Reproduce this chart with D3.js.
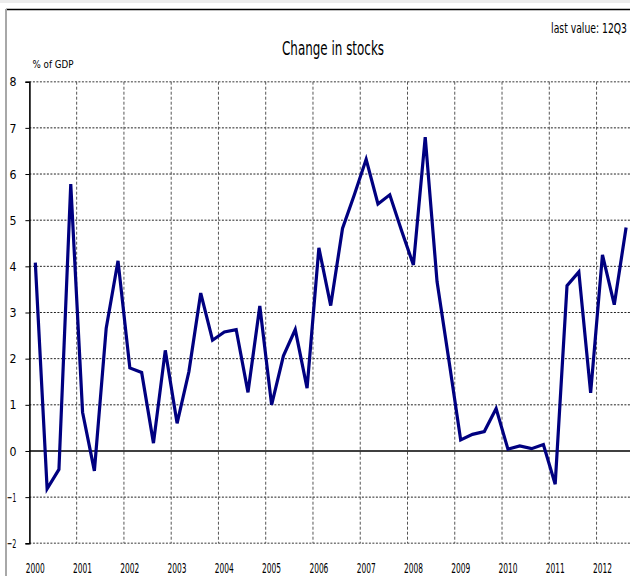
<!DOCTYPE html>
<html><head><meta charset="utf-8">
<script src="https://cdn.jsdelivr.net/npm/d3@7"></script>
<style>body{margin:0;background:#fff;}svg{display:block;}text{font-family:"DejaVu Sans",sans-serif;fill:#000;}</style>
</head><body><svg id="c" width="630" height="576"></svg>
<script>
const quarters = ["00Q1","00Q2","00Q3","00Q4","01Q1","01Q2","01Q3","01Q4","02Q1","02Q2","02Q3","02Q4","03Q1","03Q2","03Q3","03Q4","04Q1","04Q2","04Q3","04Q4","05Q1","05Q2","05Q3","05Q4","06Q1","06Q2","06Q3","06Q4","07Q1","07Q2","07Q3","07Q4","08Q1","08Q2","08Q3","08Q4","09Q1","09Q2","09Q3","09Q4","10Q1","10Q2","10Q3","10Q4","11Q1","11Q2","11Q3","11Q4","12Q1","12Q2","12Q3"];
const values = [4.08,-0.82,-0.40,5.78,0.84,-0.43,2.66,4.12,1.80,1.70,0.17,2.18,0.60,1.72,3.42,2.40,2.58,2.63,1.27,3.14,1.00,2.06,2.63,1.36,4.40,3.15,4.82,5.55,6.32,5.35,5.55,4.77,4.03,6.80,3.67,1.97,0.24,0.36,0.42,0.92,0.04,0.11,0.05,0.14,-0.72,3.58,3.88,1.26,4.25,3.17,4.84];
const yearTicks = [2000,2001,2002,2003,2004,2005,2006,2007,2008,2009,2010,2011,2012];
const yTicks = [-2,-1,0,1,2,3,4,5,6,7,8];
const title = "Change in stocks";
const unitLabel = "% of GDP";
const noteLabel = "last value: 12Q3";

const svg = d3.select("#c");
const x = d3.scaleLinear().domain([2000, 2012.75]).range([29.4, 632]);
const y = d3.scaleLinear().domain([-2, 8]).range([543.3, 81.7]);
const qx = (i) => x(2000 + (i + 0.5) / 4);

// frame
svg.append("rect").attr("x",0).attr("y",0).attr("width",630).attr("height",3).attr("fill","#ececec");
svg.append("line").attr("x1",6).attr("x2",630).attr("y1",9.5).attr("y2",9.5).attr("stroke","#000").attr("stroke-width",1.5);
svg.append("line").attr("x1",6).attr("x2",6).attr("y1",9).attr("y2",576).attr("stroke","#a8a8a8").attr("stroke-width",2);

// grid
const g = svg.append("g");
g.selectAll("line.h").data(yTicks.filter(d => d !== 0)).join("line")
  .attr("x1", x(2000)).attr("x2", 630).attr("y1", d => y(d)).attr("y2", d => y(d))
  .attr("stroke", d => (d === 8 || d === -2) ? "#7a7a7a" : "#222").attr("stroke-width", d => (d === 8 || d === -2) ? 1.6 : 1)
  .attr("stroke-dasharray", "2,1.5");
g.selectAll("line.v").data(yearTicks.slice(1)).join("line")
  .attr("x1", d => x(d)).attr("x2", d => x(d)).attr("y1", y(8)).attr("y2", y(-2))
  .attr("stroke", "#555").attr("stroke-width", 1).attr("stroke-dasharray", "3,2");
// zero line
g.append("line").attr("x1", x(2000)).attr("x2", 630).attr("y1", y(0)).attr("y2", y(0)).attr("stroke", "#000").attr("stroke-width", 1.3);

// y axis
const ya = svg.append("g").attr("transform", `translate(${x(2000)},0)`)
  .call(d3.axisLeft(y).tickValues(yTicks).tickSize(4).tickPadding(9).tickFormat(d3.format("d")));
ya.select(".domain").attr("stroke", "#000").attr("stroke-width", 1.6);
ya.selectAll(".tick line").attr("stroke", "#000");
ya.selectAll(".tick text").attr("font-size", 13).attr("fill", "#000")
  .attr("font-family", "DejaVu Sans")
  .attr("textLength", d => String(d).length === 1 ? 7 : 9.5).attr("lengthAdjust", "spacingAndGlyphs");

// x labels
svg.append("g").selectAll("text").data(yearTicks).join("text")
  .attr("x", d => x(d + 0.125)).attr("y", 573).attr("text-anchor", "middle")
  .attr("font-size", 14).attr("textLength", 19).attr("lengthAdjust", "spacingAndGlyphs")
  .text(d => d);

// line
const line = d3.line().x((d, i) => qx(i)).y(d => y(d));
svg.append("path").datum(values).attr("d", line)
  .attr("fill", "none").attr("stroke", "#000080").attr("stroke-width", 3.2).attr("stroke-linejoin", "miter");

// texts
svg.append("text").attr("x", 333).attr("y", 55).attr("text-anchor", "middle").attr("font-size", 20)
  .attr("textLength", 102).attr("lengthAdjust", "spacingAndGlyphs").text(title);
const noteG = svg.append("g");
const note = noteG.append("text").attr("x", 0).attr("y", 0).attr("text-anchor", "end").attr("font-size", 13.5).text(noteLabel);
const nw = note.node().getComputedTextLength() || 120;
noteG.attr("transform", `translate(627,33) scale(${76 / nw},1)`);
svg.append("text").attr("x", 32.5).attr("y", 68).attr("font-size", 11)
  .attr("textLength", 41).attr("lengthAdjust", "spacingAndGlyphs").text(unitLabel);
</script></body></html>
